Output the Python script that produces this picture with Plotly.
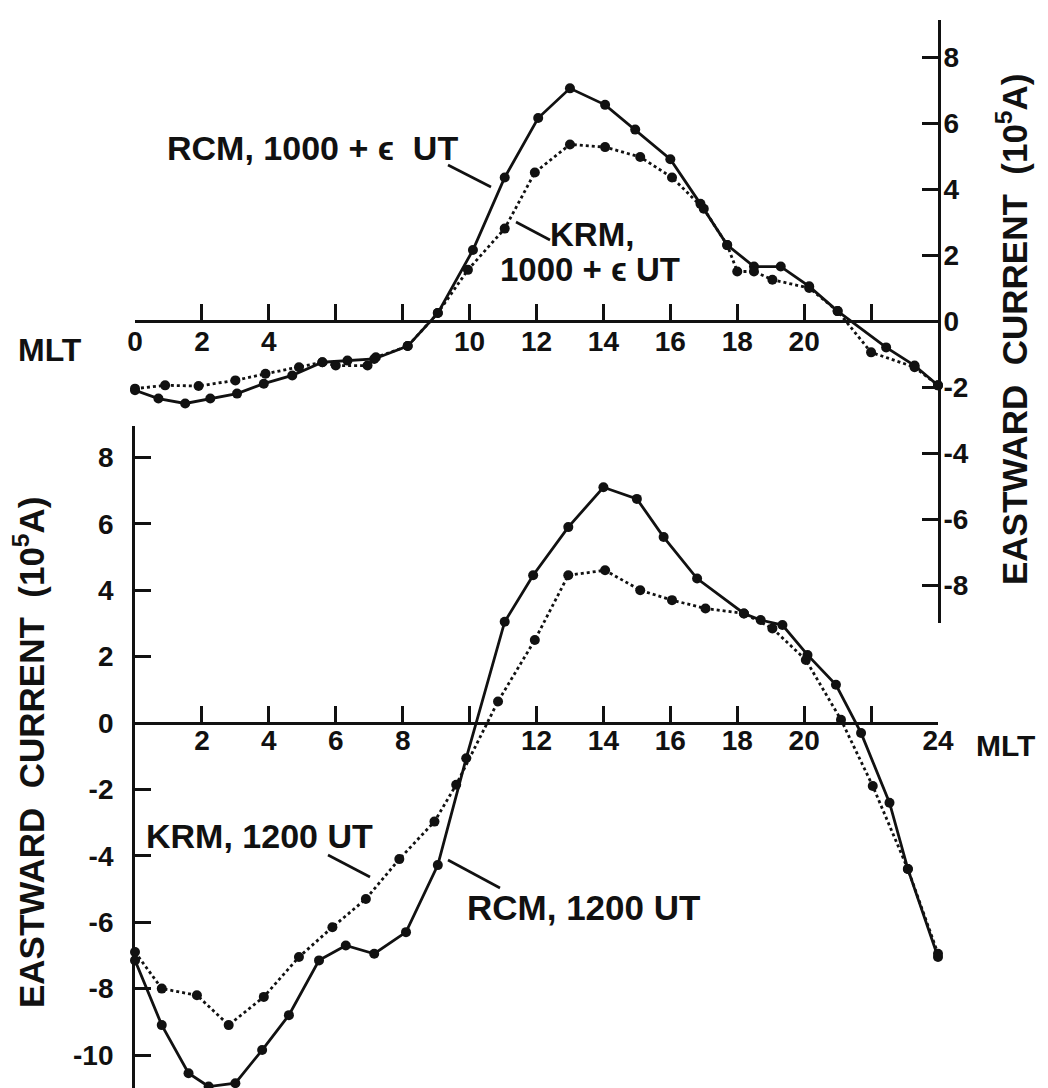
import plotly.graph_objects as go

# ---------------- data ----------------
# Top panel: 1000 + eps UT (right-hand axis)
rcm_top_x = [0, 0.7, 1.5, 2.25, 3.05, 3.85, 4.7, 5.6, 6.35, 7.15, 8.15, 9.05, 10.1, 11.05,
             12.05, 13.0, 14.05, 14.95, 16.0, 16.9, 17.7, 18.5, 19.3, 20.15, 21.0, 22.45, 23.3, 24.0]
rcm_top_y = [-2.1, -2.35, -2.5, -2.35, -2.2, -1.9, -1.65, -1.25, -1.2, -1.15, -0.76, 0.24, 2.15, 4.35,
             6.15, 7.05, 6.55, 5.8, 4.9, 3.55, 2.3, 1.65, 1.65, 1.05, 0.3, -0.8, -1.35, -1.95]

krm_top_x = [0, 0.9, 1.9, 3.0, 3.9, 4.9, 5.6, 6.0, 6.95, 7.2, 8.15, 9.05, 9.95, 11.05,
             11.95, 13.0, 14.05, 15.1, 16.05, 17.0, 17.7, 18.0, 18.5, 19.05, 20.15, 21.0, 22.0, 23.3, 24.0]
krm_top_y = [-2.05, -1.95, -1.97, -1.8, -1.6, -1.4, -1.25, -1.35, -1.35, -1.1, -0.76, 0.24, 1.55, 2.8,
             4.5, 5.35, 5.27, 4.97, 4.35, 3.4, 2.3, 1.5, 1.5, 1.25, 1.0, 0.3, -0.95, -1.4, -1.95]

# Bottom panel: 1200 UT (left-hand axis)
rcm_bot_x = [0, 0.8, 1.6, 2.2, 3.0, 3.8, 4.6, 5.5, 6.3, 7.15, 8.1, 9.05, 9.9, 11.05, 11.9,
             12.95, 14.0, 15.0, 15.8, 16.8, 18.2, 18.7, 19.35, 20.1, 20.95, 21.7, 22.55, 23.1, 24.0]
rcm_bot_y = [-7.15, -9.1, -10.55, -10.95, -10.85, -9.85, -8.8, -7.15, -6.7, -6.95, -6.3, -4.28, -1.06, 3.05, 4.45,
             5.9, 7.1, 6.75, 5.6, 4.35, 3.3, 3.1, 2.95, 2.05, 1.15, -0.3, -2.4, -4.4, -7.05]

krm_bot_x = [0, 0.8, 1.85, 2.8, 3.85, 4.9, 5.9, 6.9, 7.9, 8.95, 9.6, 10.85, 11.95, 12.95, 14.05,
             15.1, 16.05, 17.05, 18.2, 19.05, 20.05, 21.1, 22.05, 23.1, 24.0]
krm_bot_y = [-6.9, -8.0, -8.2, -9.1, -8.25, -7.05, -6.15, -5.3, -4.1, -2.97, -1.86, 0.65, 2.5, 4.45, 4.6,
             4.0, 3.7, 3.45, 3.3, 2.85, 1.9, 0.1, -1.9, -4.4, -6.95]

# tick marks and labels
top_x_ticks_all = [0, 2, 4, 6, 8, 10, 12, 14, 16, 18, 20, 22]
top_x_ticks = [0, 2, 4, 10, 12, 14, 16, 18, 20]
top_x_text = ["0", "2", "4", "10", "12", "14", "16", "18", "20"]
bot_x_ticks_all = [2, 4, 6, 8, 10, 12, 14, 16, 18, 20, 22, 24]
bot_x_ticks = [2, 4, 6, 8, 12, 14, 16, 18, 20, 24]
bot_x_text = ["2", "4", "6", "8", "12", "14", "16", "18", "20", "24"]
right_y_ticks = [8, 6, 4, 2, 0, -2, -4, -6, -8]
right_y_text = ["8", "6", "4", "2", "0", "-2", "-4", "-6", "-8"]
left_y_ticks = [8, 6, 4, 2, 0, -2, -4, -6, -8, -10]
left_y_text = ["8", "6", "4", "2", "0", "-2", "-4", "-6", "-8", "-10"]

# ---------------- layout geometry (pixels) ----------------
W, H = 1048, 1088
FONT = "Liberation Sans, Arial, sans-serif"
INK = "#111111"


def fx(px):
    return px / W


def fy(py):
    return 1 - py / H


x_dom = [fx(127), fx(930)]
# top panel: axis line from 12 to 615 px, zero at 313, 33 px per unit
top_dom = [fy(615), fy(12)]
top_rng = [-(615 - 313) / 33.0, (313 - 12) / 33.0]
# bottom panel: axis line from 418 to 1082 px, zero at 715, 33.2 px per unit
bot_dom = [fy(1082), fy(418)]
bot_rng = [-(1082 - 715) / 33.2, (715 - 418) / 33.2]

fig = go.Figure()

solid = dict(color=INK, width=2.8)
dotted = dict(color=INK, width=2.8, dash="dot")
mk = dict(color=INK, size=10)

fig.add_trace(go.Scatter(x=rcm_top_x, y=rcm_top_y, mode="lines+markers", line=solid, marker=mk,
                         xaxis="x2", yaxis="y2", cliponaxis=False, name="RCM, 1000+ε UT"))
fig.add_trace(go.Scatter(x=krm_top_x, y=krm_top_y, mode="lines+markers", line=dotted, marker=mk,
                         xaxis="x2", yaxis="y2", cliponaxis=False, name="KRM, 1000+ε UT"))
fig.add_trace(go.Scatter(x=rcm_bot_x, y=rcm_bot_y, mode="lines+markers", line=solid, marker=mk,
                         xaxis="x", yaxis="y", cliponaxis=False, name="RCM, 1200 UT"))
fig.add_trace(go.Scatter(x=krm_bot_x, y=krm_bot_y, mode="lines+markers", line=dotted, marker=mk,
                         xaxis="x", yaxis="y", cliponaxis=False, name="KRM, 1200 UT"))

tickfont = dict(family=FONT, size=28, color=INK, weight="bold")
tick_style = dict(ticks="inside", ticklen=16, tickwidth=2.8, tickcolor=INK)
axis_common = dict(showgrid=False, zeroline=False, showline=True, linecolor=INK, linewidth=2.8,
                   tickfont=tickfont, automargin=False, fixedrange=True, **tick_style)

fig.update_layout(
    width=W, height=H,
    margin=dict(l=0, r=0, t=0, b=0),
    paper_bgcolor="white", plot_bgcolor="rgba(0,0,0,0)",
    showlegend=False,
    font=dict(family=FONT, color=INK),
    xaxis=dict(domain=x_dom, range=[0, 24], anchor="free", position=fy(715),
               tickmode="array", tickvals=bot_x_ticks, ticktext=bot_x_text,
               minor=dict(tickmode="array", tickvals=bot_x_ticks_all, showgrid=False, **tick_style),
               ticklabelstandoff=-9, **axis_common),
    yaxis=dict(domain=bot_dom, range=bot_rng, anchor="x", side="left",
               tickmode="array", tickvals=left_y_ticks, ticktext=left_y_text,
               ticklabelstandoff=13, **axis_common),
    xaxis2=dict(domain=x_dom, range=[0, 24], anchor="free", position=fy(313),
                tickmode="array", tickvals=top_x_ticks, ticktext=top_x_text,
                minor=dict(tickmode="array", tickvals=top_x_ticks_all, showgrid=False, **tick_style),
                ticklabelstandoff=-6, **axis_common),
    yaxis2=dict(domain=top_dom, range=top_rng, anchor="x2", side="right",
                tickmode="array", tickvals=right_y_ticks, ticktext=right_y_text,
                ticklabelstandoff=-3, **axis_common),
)


def note(text, cx, cy, xanchor="center", size=33, angle=0):
    fig.add_annotation(text=text, x=fx(cx), y=fy(cy), xref="paper", yref="paper",
                       xanchor=xanchor, yanchor="middle", showarrow=False, textangle=angle,
                       font=dict(family=FONT, size=size, color=INK, weight="bold"))


note("RCM, 1000 + ϵ  UT", 304, 140, size=34)
note("KRM,", 540, 227, xanchor="left", size=33)
note("1000 + ϵ UT", 490, 261, xanchor="left", size=33)
note("KRM, 1200 UT", 136, 828, xanchor="left", size=34)
note("RCM, 1200 UT", 457, 899, xanchor="left", size=35)
note("MLT", 8, 342, xanchor="left", size=32)
note("MLT", 966, 737, xanchor="left", size=30)
note("EASTWARD  CURRENT  (10<sup>5</sup>A)", 21, 745, size=35, angle=-90)
note("EASTWARD  CURRENT  (10<sup>5</sup>A)", 1004, 322, size=35, angle=-90)

# leader lines from labels to curves
leaders = [((440, 157), (483, 179)),
           ((508, 214), (542, 232)),
           ((320, 847), (362, 869)),
           ((440, 852), (492, 880))]
for (x0, y0), (x1, y1) in leaders:
    fig.add_shape(type="line", xref="paper", yref="paper",
                  x0=fx(x0), y0=fy(y0), x1=fx(x1), y1=fy(y1),
                  line=dict(color=INK, width=2.6))

fig.write_html("out.html")
